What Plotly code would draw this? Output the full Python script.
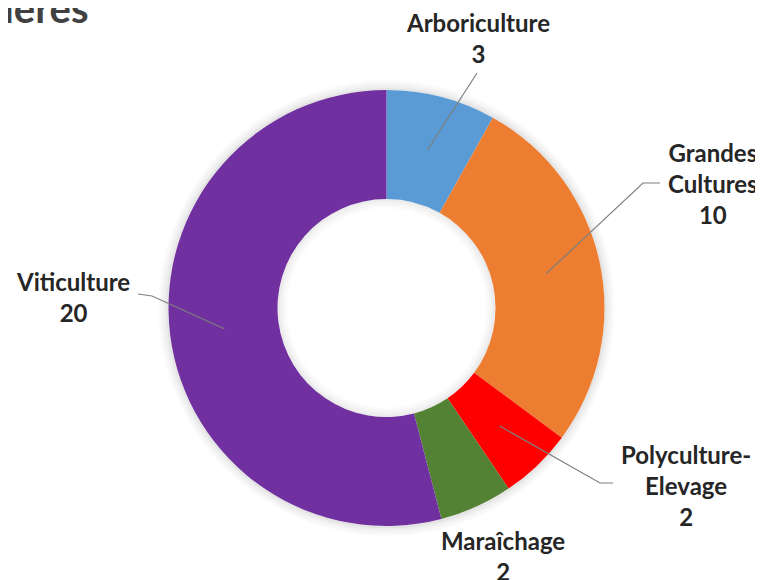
import math
import plotly.graph_objects as go

# ---- data ----
categories = ["Arboriculture", "Grandes Cultures", "Polyculture-Elevage", "Maraîchage", "Viticulture"]
values = [3, 10, 2, 2, 20]
label_texts = ["Arboriculture<br>3", "Grandes<br>Cultures<br>10", "Polyculture-<br>Elevage<br>2",
               "Maraîchage<br>2", "Viticulture<br>20"]
colors = ["#5B9BD5", "#ED7D31", "#FF0000", "#548235", "#7030A0"]
title_text = "Filières"

# ---- layout constants (pixels of the window) ----
W, H = 763, 580
OFF = 8  # page body margin
CX, CY, R = 386.5, 308.0, 218.0
HOLE = 0.5

def px(x, y):
    return (x - OFF) / W, 1 - (y - OFF) / H

dom_x = [px(CX - R, 0)[0], px(CX + R, 0)[0]]
dom_y = [px(0, CY + R)[1], px(0, CY - R)[1]]

fig = go.Figure(go.Pie(
    labels=categories, values=values, sort=False, direction="clockwise", rotation=0,
    hole=HOLE, marker=dict(colors=colors, line=dict(width=0)),
    textinfo="none", hoverinfo="label+value", showlegend=False,
    domain=dict(x=dom_x, y=dom_y),
))

# label block centers (pixels) and leader-line label-side points
label_pos = [(478, 38), (713, 184), (686, 485), (503, 556), (73, 297)]
leader_start = [
    [(477, 73)],
    [(660, 183), (643, 183)],
    [(613, 483), (600, 483)],
    None,
    [(138, 294), (152, 296)],
]

annotations = []
shapes = []

def ring(radius, op):
    x0, y1 = px(CX - radius, CY - radius)
    x1, y0 = px(CX + radius, CY + radius)
    return dict(type="circle", xref="paper", yref="paper", x0=x0, x1=x1, y0=y0, y1=y1,
                fillcolor="rgba(0,0,0,0)", line=dict(width=2.2, color=f"rgba(0,0,0,{op})"),
                layer="below")

# soft shadow outside the ring and inside the hole
for dr, op in [(1, 0.10), (3, 0.07), (5, 0.05), (7, 0.03), (9, 0.015)]:
    shapes.append(ring(R + dr, op))
    shapes.append(ring(R * HOLE - dr, op * 0.8))

total = sum(values)
cum = 0
rmid = R * (1 + HOLE) / 2
for i, v in enumerate(values):
    mid = (cum + v / 2) / total * 2 * math.pi
    cum += v
    lx, ly = label_pos[i]
    ax, ay = px(lx, ly)
    annotations.append(dict(x=ax, y=ay, xref="paper", yref="paper", text="<b>" + label_texts[i] + "</b>",
                            showarrow=False, xanchor="center", yanchor="middle",
                            font=dict(family="Lato", size=24, color="#262626"), align="center"))
    if leader_start[i]:
        ex = CX + rmid * math.sin(mid)
        ey = CY - rmid * math.cos(mid)
        pts = leader_start[i] + [(ex, ey)]
        path = "M " + " L ".join(f"{px(x, y)[0]},{px(x, y)[1]}" for x, y in pts)
        shapes.append(dict(type="path", xref="paper", yref="paper", path=path,
                           line=dict(color="#7F7F7F", width=1.2)))

tx, ty = px(91, 8.5)
annotations.append(dict(x=tx, y=ty, xref="paper", yref="paper", text="<b>" + title_text + "</b>",
                        showarrow=False, xanchor="right", yanchor="middle",
                        font=dict(family="Lato", size=40, color="#404040")))

fig.update_layout(
    width=W, height=H, margin=dict(l=0, r=0, t=0, b=0),
    paper_bgcolor="white", plot_bgcolor="white",
    annotations=annotations, shapes=shapes,
)
fig.write_html("out.html")
